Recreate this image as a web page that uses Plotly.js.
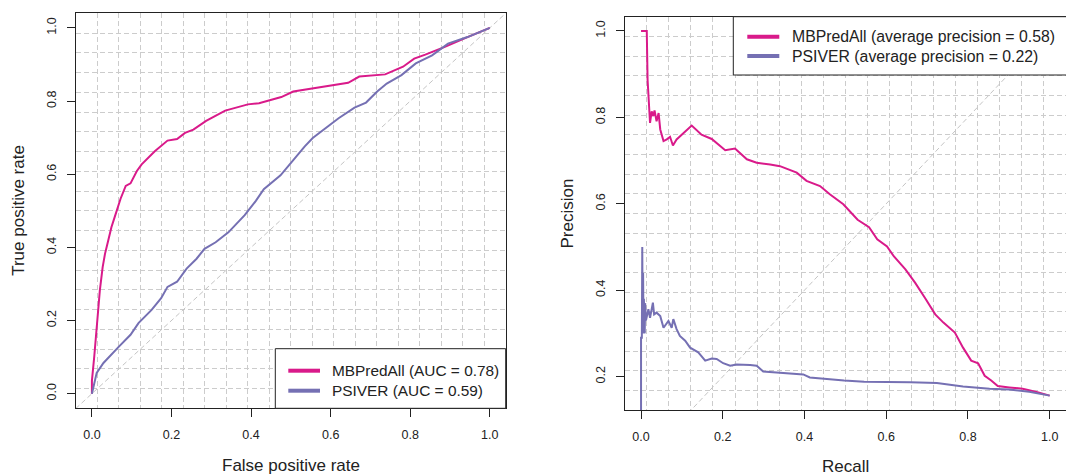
<!DOCTYPE html>
<html>
<head>
<meta charset="utf-8">
<script src="https://cdn.plot.ly/plotly-3.0.1.min.js"></script>
<style>
html,body{margin:0;padding:0;background:#ffffff;}
#chart{width:1066px;height:475px;}
</style>
</head>
<body>
<div id="chart"></div>
<script>
// ---------- data ----------
const seriesNames = ['MBPredAll', 'PSIVER'];
const rocLegendLabels = ['MBPredAll (AUC = 0.78)', 'PSIVER (AUC = 0.59)'];
const prLegendLabels = ['MBPredAll (average precision = 0.58)', 'PSIVER (average precision = 0.22)'];
const rocAxisTitles = ['False positive rate', 'True positive rate'];
const prAxisTitles = ['Recall', 'Precision'];

const rocTickVals = [0, 0.2, 0.4, 0.6, 0.8, 1.0];
const rocTickText = ['0.0', '0.2', '0.4', '0.6', '0.8', '1.0'];
const prYTickVals = [0.2, 0.4, 0.6, 0.8, 1.0];
const prYTickText = ['0.2', '0.4', '0.6', '0.8', '1.0'];

// ROC curve, MBPredAll
const rocFprMB = [0, 0.000, 0.006, 0.011, 0.016, 0.020, 0.027, 0.033, 0.041, 0.049, 0.057, 0.061, 0.072, 0.085, 0.097, 0.113, 0.125, 0.158, 0.190, 0.214, 0.234, 0.255, 0.287, 0.335, 0.392, 0.420, 0.476, 0.506, 0.555, 0.604, 0.644, 0.672, 0.737, 0.782, 0.810, 0.838, 0.887, 0.944, 1.0];
const rocTprMB = [0, 0.035, 0.103, 0.166, 0.229, 0.283, 0.346, 0.383, 0.419, 0.455, 0.482, 0.495, 0.533, 0.568, 0.575, 0.609, 0.627, 0.663, 0.692, 0.696, 0.713, 0.722, 0.746, 0.774, 0.791, 0.794, 0.811, 0.826, 0.835, 0.842, 0.850, 0.867, 0.873, 0.894, 0.916, 0.927, 0.948, 0.975, 1.0];

// ROC curve, PSIVER
const rocFprPS = [0, 0.012, 0.029, 0.045, 0.069, 0.097, 0.117, 0.150, 0.174, 0.190, 0.214, 0.238, 0.263, 0.283, 0.311, 0.343, 0.384, 0.412, 0.432, 0.474, 0.506, 0.535, 0.555, 0.587, 0.620, 0.660, 0.689, 0.717, 0.741, 0.778, 0.814, 0.855, 0.895, 0.944, 1.0];
const rocTprPS = [0, 0.057, 0.084, 0.103, 0.130, 0.161, 0.193, 0.229, 0.261, 0.292, 0.306, 0.342, 0.369, 0.396, 0.414, 0.441, 0.488, 0.527, 0.559, 0.597, 0.640, 0.676, 0.699, 0.726, 0.753, 0.782, 0.796, 0.826, 0.848, 0.871, 0.903, 0.925, 0.957, 0.975, 1.0];

// Precision-recall curve, MBPredAll
const prRecallMB = [0.000, 0.014, 0.016, 0.018, 0.022, 0.026, 0.030, 0.033, 0.038, 0.043, 0.047, 0.055, 0.063, 0.071, 0.078, 0.087, 0.104, 0.124, 0.148, 0.173, 0.206, 0.230, 0.259, 0.283, 0.316, 0.340, 0.381, 0.405, 0.438, 0.462, 0.495, 0.530, 0.558, 0.578, 0.602, 0.619, 0.647, 0.671, 0.695, 0.720, 0.740, 0.768, 0.788, 0.808, 0.825, 0.841, 0.857, 0.873, 0.901, 0.934, 0.970, 1.000];
const prPrecMB = [1.000, 1.000, 0.887, 0.849, 0.787, 0.814, 0.803, 0.816, 0.791, 0.810, 0.772, 0.745, 0.749, 0.755, 0.735, 0.749, 0.764, 0.781, 0.760, 0.750, 0.724, 0.728, 0.703, 0.695, 0.691, 0.687, 0.672, 0.653, 0.641, 0.622, 0.599, 0.563, 0.546, 0.518, 0.501, 0.478, 0.448, 0.417, 0.382, 0.344, 0.325, 0.302, 0.267, 0.237, 0.231, 0.202, 0.191, 0.178, 0.175, 0.172, 0.164, 0.156];

// Precision-recall curve, PSIVER
const prRecallPS = [0.000, 0.000, 0.002, 0.003, 0.004, 0.005, 0.006, 0.007, 0.009, 0.010, 0.012, 0.014, 0.018, 0.022, 0.029, 0.032, 0.038, 0.047, 0.055, 0.067, 0.075, 0.079, 0.087, 0.095, 0.108, 0.120, 0.140, 0.157, 0.173, 0.185, 0.201, 0.218, 0.234, 0.267, 0.283, 0.299, 0.332, 0.364, 0.397, 0.413, 0.446, 0.497, 0.546, 0.594, 0.659, 0.724, 0.788, 0.853, 0.901, 0.950, 1.000];
const prPrecPS = [0.100, 0.290, 0.290, 0.500, 0.300, 0.440, 0.310, 0.380, 0.300, 0.370, 0.330, 0.340, 0.356, 0.336, 0.371, 0.344, 0.348, 0.340, 0.313, 0.329, 0.313, 0.333, 0.310, 0.294, 0.283, 0.267, 0.256, 0.237, 0.242, 0.241, 0.231, 0.225, 0.228, 0.227, 0.225, 0.212, 0.210, 0.208, 0.205, 0.198, 0.195, 0.191, 0.188, 0.188, 0.187, 0.185, 0.177, 0.172, 0.170, 0.165, 0.156];

// reference diagonal (y = x), extends past the plot edges
const diagonal = [-0.1, 1.1];

// ---------- styling ----------
const W = 1066, H = 475;
const colors = ['#D91A8A', '#7570B3'];
const FONT = '"Liberation Sans", Arial, Helvetica, sans-serif';
const INK = '#222222';
const px = x => x / W;
const py = y => 1 - y / H;

function lineTrace(x, y, color, xa, ya, name) {
  return {x: x, y: y, type: 'scatter', mode: 'lines', name: name,
    xaxis: xa, yaxis: ya, showlegend: false, hoverinfo: 'skip',
    line: {color: color, width: 2}};
}
function diagTrace(xa, ya) {
  return {x: diagonal, y: diagonal, type: 'scatter', mode: 'lines', xaxis: xa, yaxis: ya,
    showlegend: false, hoverinfo: 'skip', line: {color: '#c4c4c4', width: 1, dash: '5px,3px'}};
}

const traces = [
  diagTrace('x', 'y'),
  lineTrace(rocFprMB, rocTprMB, colors[0], 'x', 'y', seriesNames[0]),
  lineTrace(rocFprPS, rocTprPS, colors[1], 'x', 'y', seriesNames[1]),
  diagTrace('x2', 'y2'),
  lineTrace(prRecallMB, prPrecMB, colors[0], 'x2', 'y2', seriesNames[0]),
  lineTrace(prRecallPS, prPrecPS, colors[1], 'x2', 'y2', seriesNames[1])
];

function axis(domain, range, tickvals, ticktext, gridTick0, gridStep, isY) {
  return {
    domain: domain, range: range, autorange: false, fixedrange: true,
    tickmode: 'array', tickvals: tickvals, ticktext: ticktext,
    ticks: 'outside', ticklen: 8, tickwidth: 1, tickcolor: INK,
    ticklabelstandoff: isY ? 6 : 7,
    tickangle: isY ? -90 : 0,
    tickfont: {family: FONT, size: 12.5, color: INK},
    showline: true, mirror: true, linecolor: INK, linewidth: 1,
    showgrid: false, zeroline: false,
    minor: {tickmode: 'linear', tick0: gridTick0, dtick: gridStep, ticks: '', ticklen: 0,
      showgrid: true, gridcolor: '#cccccc', gridwidth: 1, griddash: '5px,3px'}
  };
}

const rocRange = [-0.04, 1.04];
const prYRange = [0.122, 1.033];

const layout = {
  width: W, height: H,
  margin: {l: 0, r: 0, t: 0, b: 0},
  paper_bgcolor: '#ffffff', plot_bgcolor: '#ffffff',
  font: {family: FONT, color: INK},
  showlegend: false,
  xaxis: Object.assign(axis([76 / W, 505.7 / W], rocRange, rocTickVals, rocTickText, -0.04, 0.054, false), {anchor: 'y'}),
  yaxis: Object.assign(axis([1 - 408.3 / H, 1 - 13.3 / H], rocRange, rocTickVals, rocTickText, -0.04, 0.054, true), {anchor: 'x'}),
  xaxis2: Object.assign(axis([624.7 / W, 1.0], rocRange, rocTickVals, rocTickText, -0.04, 0.054, false), {anchor: 'y2'}),
  yaxis2: Object.assign(axis([1 - 410.3 / H, 1 - 16.7 / H], prYRange, prYTickVals, prYTickText, 0.122, 0.04555, true), {anchor: 'x2'}),
  shapes: [],
  annotations: []
};

// axis titles
function title(text, x, y, angle) {
  return {text: text, x: px(x), y: py(y), xref: 'paper', yref: 'paper',
    xanchor: 'center', yanchor: 'middle', showarrow: false, textangle: angle,
    font: {family: FONT, size: 17, color: INK}};
}
layout.annotations.push(title(rocAxisTitles[0], 290.8, 465, 0));
layout.annotations.push(title(rocAxisTitles[1], 19, 210.8, -90));
layout.annotations.push(title(prAxisTitles[0], 845.3, 466, 0));
layout.annotations.push(title(prAxisTitles[1], 567, 213.5, -90));

// legends (R style boxes)
function legendBox(x0, x1, y0, y1, lineX0, lineX1, rowsY, textX, labels, fontSize) {
  layout.shapes.push({type: 'rect', xref: 'paper', yref: 'paper', layer: 'above',
    x0: px(x0), x1: px(x1), y0: py(y1), y1: py(y0),
    fillcolor: '#ffffff', line: {color: INK, width: 1}});
  labels.forEach((lab, i) => {
    layout.shapes.push({type: 'line', xref: 'paper', yref: 'paper', layer: 'above',
      x0: px(lineX0), x1: px(lineX1), y0: py(rowsY[i]), y1: py(rowsY[i]),
      line: {color: colors[i], width: 4}});
    layout.annotations.push({text: lab, x: px(textX), y: py(rowsY[i]), xref: 'paper', yref: 'paper',
      xanchor: 'left', yanchor: 'middle', showarrow: false, borderpad: 0,
      font: {family: FONT, size: fontSize, color: INK}});
  });
}
legendBox(275.3, 505.7, 348.7, 408.3, 288.3, 320, [370.7, 390.7], 330.5, rocLegendLabels, 15.4);
legendBox(733.3, 1066.5, 16.7, 75, 747.3, 779.3, [36.7, 56.0], 790.5, prLegendLabels, 15.8);

Plotly.newPlot('chart', traces, layout, {displayModeBar: false, staticPlot: true});
</script>
</body>
</html>
